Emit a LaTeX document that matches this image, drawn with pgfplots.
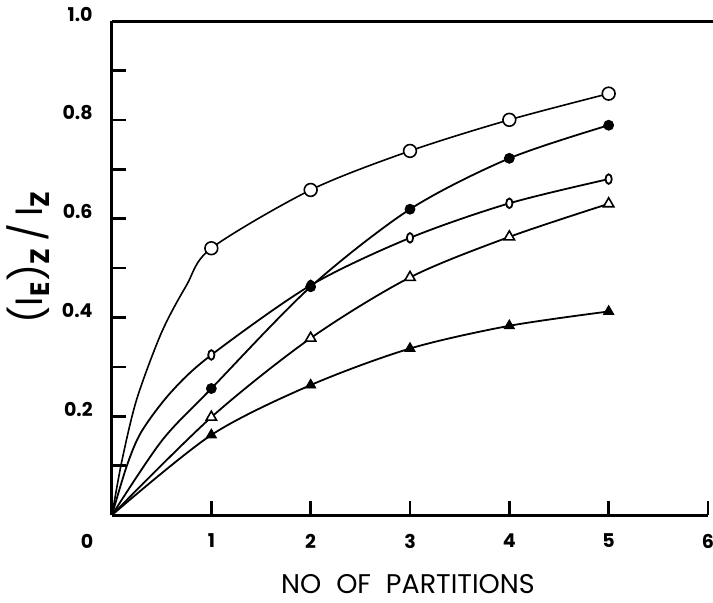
\documentclass[border=0pt]{standalone}
\usepackage{fontspec}
\setmainfont{Poppins}
\usepackage{pgfplots}
\pgfplotsset{compat=1.18}

\begin{document}
\begin{tikzpicture}
\useasboundingbox (-56pt,-43.5pt) rectangle (300.5pt,257.5pt);
\begin{axis}[
  at={(0pt,0pt)}, anchor=south west,
  scale only axis, width=298pt, height=247pt,
  xmin=0, xmax=6, ymin=0, ymax=1,
  axis x line*=bottom, axis y line*=left,
  axis line style={line width=1.5pt, -},
  xtick={1,2,3,4,5,6},
  ytick={0.2,0.4,0.6,0.8,1.0},
  yticklabels={},
  minor ytick={0.1,0.3,0.5,0.7,0.9},
  tick align=inside,
  major tick length=7pt, minor tick length=7pt,
  every tick/.style={line width=1.3pt, black},
  /pgf/number format/assume math mode=true,
  xticklabel style={font=\bfseries\fontsize{9.5}{9.5}\selectfont, anchor=center, yshift=-13pt},
  clip=false,
]
% curves (origin and a few points)
\addplot[smooth, tension=0.5, line width=0.8pt, no markers] coordinates {
  (0,0) (0.1,0.11) (0.25,0.235) (0.5,0.37) (0.75,0.465) (1,0.54) (2,0.658) (3,0.737) (4,0.80) (5,0.853)};
\addplot[smooth, tension=0.5, line width=0.9pt, no markers] coordinates {
  (0,0) (0.15,0.1) (0.3,0.17) (0.6,0.25) (1,0.324) (2,0.465) (3,0.561) (4,0.631) (5,0.680)};
\addplot[smooth, tension=0.5, line width=0.9pt, no markers] coordinates {
  (0,0) (0.5,0.15) (1,0.256) (2,0.462) (3,0.619) (4,0.722) (5,0.789)};
\addplot[smooth, tension=0.5, line width=0.9pt, no markers] coordinates {
  (0,0) (1,0.198) (2,0.358) (3,0.481) (4,0.563) (5,0.630)};
\addplot[smooth, tension=0.5, line width=0.9pt, no markers] coordinates {
  (0,0) (1,0.162) (2,0.263) (3,0.337) (4,0.383) (5,0.412)};
% markers
\addplot[only marks, mark=*, mark size=3.2pt, mark options={fill=white, draw=black, line width=0.8pt}] coordinates {
  (1,0.54) (2,0.658) (3,0.737) (4,0.80) (5,0.853)};
\addplot[only marks, mark=*, mark size=2.4pt, mark options={fill=white, draw=black, line width=0.9pt, xscale=0.65}] coordinates {
  (1,0.324) (2,0.465) (3,0.561) (4,0.631) (5,0.680)};
\addplot[only marks, mark=*, mark size=2.5pt, mark options={fill=black, draw=black}] coordinates {
  (1,0.256) (2,0.462) (3,0.619) (4,0.722) (5,0.789)};
\addplot[only marks, mark=triangle*, mark size=3pt, mark options={fill=white, draw=black, line width=0.8pt}] coordinates {
  (1,0.198) (2,0.358) (3,0.481) (4,0.563) (5,0.630)};
\addplot[only marks, mark=triangle*, mark size=3pt, mark options={fill=black, draw=black}] coordinates {
  (1,0.162) (2,0.263) (3,0.337) (4,0.383) (5,0.412)};
\draw[line width=1.5pt] (axis cs:0,1) -- (axis cs:6.05,1);
\end{axis}
% y tick labels: baseline on the tick, 247pt per unit
\foreach \v/\h in {0.2/49.4, 0.4/98.8, 0.6/148.2, 0.8/197.6, 1.0/247}
  \node[anchor=base east, inner sep=0pt, font=\bfseries\fontsize{9.5}{9.5}\selectfont] at (-9.5pt,\h pt) {\v};
\node[font=\bfseries\fontsize{9.5}{9.5}\selectfont] at (-12.5pt,-13pt) {0};
\node[font=\fontsize{13.5}{13.5}\selectfont, inner sep=0pt] at (148pt,-34.5pt)
  {NO\hspace{0.55em}OF\hspace{0.55em}PARTITIONS};
\node[rotate=90, font=\fontsize{19}{19}\selectfont, inner sep=0pt] at (-42pt,129pt)
  {(I\textsubscript{\bfseries E})\textsubscript{\bfseries Z}\,/\,I\textsubscript{\bfseries Z}};
\end{tikzpicture}
\end{document}
